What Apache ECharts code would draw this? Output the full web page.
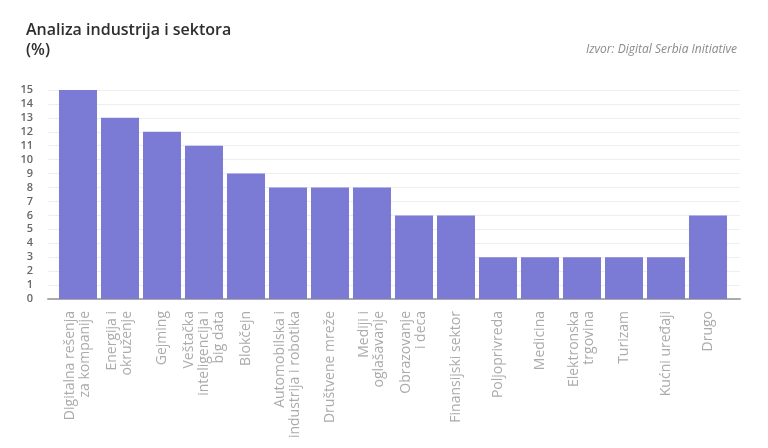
<!DOCTYPE html>
<html>
<head>
<meta charset="utf-8">
<script src="https://cdn.jsdelivr.net/npm/echarts@6/dist/echarts.min.js"></script>
<style>
html,body{margin:0;padding:0;background:#fff;}
#c{width:768px;height:448px;}
</style>
</head>
<body>
<div id="c"></div>
<script>
const categories = [
  "Digitalna rešenja\nza kompanije",
  "Energija i\nokruženje",
  "Gejming",
  "Veštačka\ninteligencija i\nbig data",
  "Blokčejn",
  "Automobilska i\nindustrija i robotika",
  "Društvene mreže",
  "Mediji i\noglašavanje",
  "Obrazovanje\ni deca",
  "Finansijski sektor",
  "Poljoprivreda",
  "Medicina",
  "Elektronska\ntrgovina",
  "Turizam",
  "Kućni uređaji",
  "Drugo"
];
const values = [15, 13, 12, 11, 9, 8, 8, 8, 6, 6, 3, 3, 3, 3, 3, 6];
const yMin = 0, yMax = 15, yStep = 1;

const chart = echarts.init(document.getElementById('c'));
const font = '"Open Sans", "Noto Sans", sans-serif';
chart.setOption({
  animation: false,
  backgroundColor: '#ffffff',
  title: [
    {
      text: 'Analiza industrija i sektora\n(%)',
      left: 21, top: 15,
      textStyle: { fontFamily: font, fontSize: 16, fontWeight: 600, color: '#2e2e2e', lineHeight: 20 }
    },
    {
      text: 'Izvor: Digital Serbia Initiative',
      right: 26, top: 39,
      textStyle: { fontFamily: font, fontSize: 12, fontStyle: 'italic', fontWeight: 'normal', color: '#8a8a8a' }
    }
  ],
  grid: [
    { left: 48, right: 28, top: 90, bottom: 149 },
    { left: 57, right: 39, top: 90, bottom: 149 }
  ],
  xAxis: [
    {
      gridIndex: 0, type: 'value', min: 0, max: 1,
      axisLabel: { show: false }, axisTick: { show: false }, splitLine: { show: false },
      axisLine: { show: true, lineStyle: { color: '#aaaaaa', width: 2 } }
    },
    {
      gridIndex: 1, type: 'category', data: categories,
      axisLine: { show: false }, axisTick: { show: false },
      axisLabel: {
        interval: 0, rotate: 90, margin: 12,
        fontFamily: font, fontSize: 14, color: '#ababab', lineHeight: 15
      }
    }
  ],
  yAxis: [
    {
      gridIndex: 0, type: 'value', min: yMin, max: yMax, interval: yStep,
      axisLine: { show: false }, axisTick: { show: false },
      axisLabel: { margin: 15, fontFamily: font, fontSize: 11, fontWeight: 600, color: '#666666' },
      splitLine: { lineStyle: { color: '#eeeeee', width: 1 } }
    },
    {
      gridIndex: 1, type: 'value', min: yMin, max: yMax, interval: yStep,
      show: false, splitLine: { show: false }
    }
  ],
  series: [
    {
      type: 'bar', xAxisIndex: 1, yAxisIndex: 1,
      data: values,
      barCategoryGap: '9.5%',
      itemStyle: { color: '#7b7bd5' }
    }
  ]
});
</script>
</body>
</html>
